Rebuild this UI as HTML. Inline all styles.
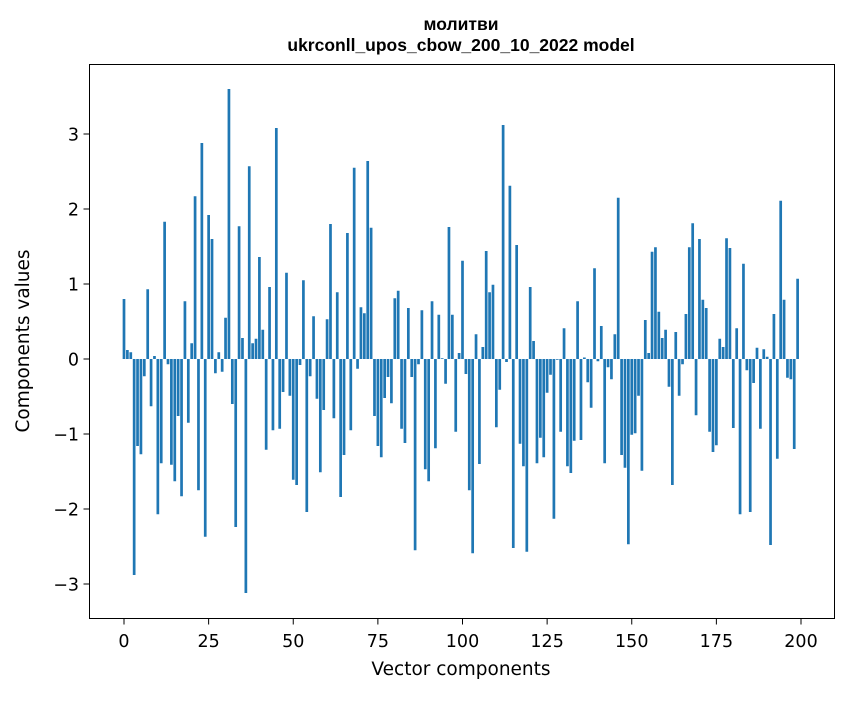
<!DOCTYPE html>
<html><head><meta charset="utf-8"><style>
body{margin:0;background:#fff;}
svg text{font-family:"DejaVu Sans","Liberation Sans",sans-serif;fill:#000;}
svg text.title{font-family:"Liberation Sans","DejaVu Sans",sans-serif;}
</style></head><body>
<svg id="chart" width="847" height="696" xmlns="http://www.w3.org/2000/svg">
<rect width="847" height="696" fill="#fff"/>
<text class="title" x="461" y="30" text-anchor="middle" font-size="17.5" font-weight="bold">молитви</text>
<text class="title" x="461" y="51" text-anchor="middle" font-size="17.5" font-weight="bold">ukrconll_upos_cbow_200_10_2022 model</text>
<g id="bars"></g>
<g id="xaxis"></g>
<g id="yaxis"></g>
<rect x="89.5" y="64.5" width="745" height="554" fill="none" stroke="#000" stroke-width="1"/>
<text x="461" y="675" text-anchor="middle" font-size="18.5">Vector components</text>
<text x="0" y="0" transform="translate(29,341) rotate(-90)" text-anchor="middle" font-size="18.5">Components values</text>
</svg>
<script>
const values = [0.80,0.12,0.09,-2.88,-1.16,-1.27,-0.23,0.93,-0.63,0.04,
-2.07,-1.39,1.83,-0.07,-1.41,-1.63,-0.76,-1.83,0.77,-0.85,
0.21,2.17,-1.75,2.88,-2.37,1.92,1.60,-0.19,0.09,-0.17,
0.55,3.60,-0.60,-2.24,1.77,0.28,-3.12,2.57,0.21,0.27,
1.36,0.39,-1.21,0.96,-0.95,3.08,-0.93,-0.44,1.15,-0.49,
-1.61,-1.68,-0.08,1.05,-2.04,-0.23,0.57,-0.53,-1.51,-0.68,
0.53,1.80,-0.79,0.89,-1.84,-1.28,1.68,-0.95,2.55,-0.13,
0.69,0.61,2.64,1.75,-0.76,-1.16,-1.31,-0.52,-0.24,-0.59,
0.81,0.91,-0.93,-1.12,0.68,-0.24,-2.55,-0.07,0.65,-1.47,
-1.63,0.77,-1.19,0.59,0.01,-0.33,1.76,0.59,-0.97,0.08,
1.31,-0.20,-1.75,-2.59,0.33,-1.40,0.16,1.44,0.89,0.99,
-0.91,-0.41,3.12,-0.04,2.31,-2.52,1.52,-1.13,-1.43,-2.57,
0.96,0.24,-1.39,-1.05,-1.31,-0.45,-0.21,-2.13,-0.01,-0.97,
0.41,-1.43,-1.52,-1.09,0.77,-1.08,0.02,-0.31,-0.65,1.21,
-0.03,0.44,-1.39,-0.11,-0.27,0.33,2.15,-1.28,-1.45,-2.47,
-1.01,-0.99,-0.49,-1.49,0.52,0.08,1.43,1.49,0.63,0.28,
0.39,-0.37,-1.68,0.36,-0.49,-0.07,0.60,1.49,1.81,-0.75,
1.60,0.79,0.68,-0.97,-1.24,-1.15,0.27,0.16,1.61,1.48,
-0.92,0.41,-2.07,1.27,-0.15,-2.04,-0.32,0.15,-0.93,0.13,
0.03,-2.48,0.60,-1.33,2.11,0.79,-0.25,-0.27,-1.20,1.07];
const xTicks = [0,25,50,75,100,125,150,175,200];
const yTicks = [-3,-2,-1,0,1,2,3];
const NS="http://www.w3.org/2000/svg";
const xs = v => 124 + v*(677/200);
const ys = v => 359 - v*75;
const bw = 0.8*677/200;
const bars=document.getElementById('bars');
values.forEach((v,i)=>{
  const r=document.createElementNS(NS,'rect');
  
  
  r.setAttribute('x',xs(i)-bw/2);
  r.setAttribute('y',Math.min(ys(v),ys(0)));
  r.setAttribute('width',bw);
  r.setAttribute('height',Math.abs(ys(v)-ys(0)));
  r.setAttribute('fill','#1f77b4');
  bars.appendChild(r);
});
const xa=document.getElementById('xaxis');
xTicks.forEach(t=>{
  const l=document.createElementNS(NS,'line');
  
  
  l.setAttribute('x1',xs(t));l.setAttribute('x2',xs(t));
  l.setAttribute('y1',618.5);l.setAttribute('y2',624.5);
  l.setAttribute('stroke','#000');
  xa.appendChild(l);
  const tx=document.createElementNS(NS,'text');
  
  
  tx.setAttribute('x',xs(t));tx.setAttribute('y',647);
  tx.setAttribute('text-anchor','middle');tx.setAttribute('font-size','17.5');
  tx.textContent=t;
  xa.appendChild(tx);
});
const ya=document.getElementById('yaxis');
yTicks.forEach(t=>{
  const l=document.createElementNS(NS,'line');
  
  
  l.setAttribute('x1',83.5);l.setAttribute('x2',89.5);
  l.setAttribute('y1',ys(t));l.setAttribute('y2',ys(t));
  l.setAttribute('stroke','#000');
  ya.appendChild(l);
  const tx=document.createElementNS(NS,'text');
  
  
  tx.setAttribute('x',79);tx.setAttribute('y',ys(t)+6.5);
  tx.setAttribute('text-anchor','end');tx.setAttribute('font-size','17.5');
  tx.textContent=t<0?'\u2212'+Math.abs(t):t;
  ya.appendChild(tx);
});
</script>
</body></html>
